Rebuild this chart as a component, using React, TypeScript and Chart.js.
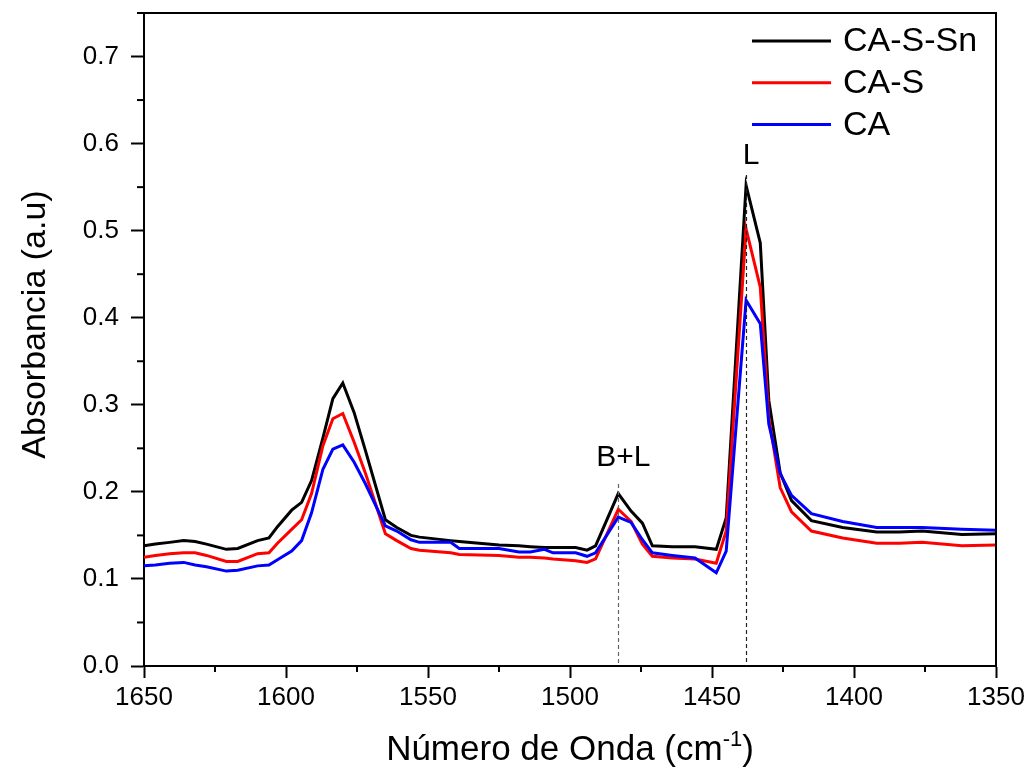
import { useEffect, useRef } from "react";
import { Chart, registerables } from "chart.js";

Chart.register(...registerables);

// Wavenumbers (cm-1) of the sampled points
const wavenumbers = [
  1650, 1646, 1641, 1636, 1632, 1628, 1621, 1617, 1610, 1606,
  1603, 1598, 1594.5, 1591, 1587, 1583.5, 1580, 1576, 1572, 1565,
  1561, 1556, 1553, 1542, 1539, 1525, 1518, 1514, 1509, 1506,
  1498, 1494, 1491, 1483, 1478.5, 1474.5, 1471, 1464, 1456, 1448.5,
  1445, 1438, 1433, 1430, 1426, 1422, 1415, 1404, 1392, 1384,
  1376, 1362, 1350,
];

const caSSn = [
  0.138, 0.140, 0.142, 0.144, 0.143, 0.140, 0.134, 0.135, 0.144, 0.147,
  0.160, 0.179, 0.188, 0.213, 0.262, 0.307, 0.325, 0.291, 0.247, 0.168,
  0.159, 0.150, 0.148, 0.144, 0.143, 0.139, 0.138, 0.137, 0.136, 0.136,
  0.136, 0.133, 0.138, 0.198, 0.178, 0.164, 0.138, 0.137, 0.137, 0.134,
  0.170, 0.552, 0.486, 0.305, 0.222, 0.190, 0.167, 0.159, 0.154, 0.154,
  0.155, 0.151, 0.152,
];

const caS = [
  0.125, 0.127, 0.129, 0.130, 0.130, 0.127, 0.120, 0.120, 0.129, 0.130,
  0.141, 0.157, 0.168, 0.198, 0.253, 0.284, 0.290, 0.257, 0.221, 0.152,
  0.144, 0.135, 0.133, 0.130, 0.128, 0.127, 0.125, 0.125, 0.124, 0.123,
  0.121, 0.119, 0.123, 0.180, 0.166, 0.140, 0.126, 0.124, 0.123, 0.118,
  0.155, 0.502, 0.435, 0.285, 0.205, 0.177, 0.155, 0.147, 0.141, 0.141,
  0.142, 0.138, 0.139,
];

const ca = [
  0.115, 0.116, 0.118, 0.119, 0.116, 0.114, 0.109, 0.110, 0.115, 0.116,
  0.122, 0.132, 0.144, 0.176, 0.226, 0.249, 0.254, 0.234, 0.209, 0.161,
  0.155, 0.145, 0.142, 0.142, 0.135, 0.135, 0.131, 0.131, 0.134, 0.130,
  0.130, 0.126, 0.130, 0.171, 0.165, 0.145, 0.130, 0.127, 0.124, 0.107,
  0.132, 0.420, 0.393, 0.278, 0.221, 0.196, 0.175, 0.166, 0.159, 0.159,
  0.159, 0.157, 0.156,
];

const seriesNames = ["CA-S-Sn", "CA-S", "CA"];
const seriesColors = ["#000000", "#ff0000", "#0000ff"];
const seriesValues = [caSSn, caS, ca];

const yTickValues = [0, 0.1, 0.2, 0.3, 0.4, 0.5, 0.6, 0.7];
const xTickValues = [1650, 1600, 1550, 1500, 1450, 1400, 1350];

const peakLabels = ["B+L", "L"];
const peakWavenumbers = [1483, 1438];
const peakLineTops = [0.209, 0.564];
const peakLabelValues = [0.230, 0.577];
const peakLineColors = ["#666666", "#222222"];

const FONT = "'Liberation Sans', Arial, Helvetica, sans-serif";

const extrasPlugin = {
  id: "extras",
  afterDatasetsDraw(chart: any) {
    const { ctx, chartArea: a, scales } = chart;
    const xs = scales.x;
    const ys = scales.y;
    ctx.save();

    // dashed peak markers + labels
    ctx.lineWidth = 1.2;
    ctx.setLineDash([4, 3]);
    peakWavenumbers.forEach((w, i) => {
      const px = Math.round(xs.getPixelForValue(w)) + 0.5;
      ctx.strokeStyle = peakLineColors[i];
      ctx.beginPath();
      ctx.moveTo(px, ys.getPixelForValue(peakLineTops[i]));
      ctx.lineTo(px, a.bottom);
      ctx.stroke();
    });
    ctx.setLineDash([]);
    ctx.fillStyle = "#000";
    ctx.font = `30px ${FONT}`;
    ctx.textAlign = "center";
    ctx.textBaseline = "alphabetic";
    peakWavenumbers.forEach((w, i) => {
      ctx.fillText(peakLabels[i], xs.getPixelForValue(w) + 5, ys.getPixelForValue(peakLabelValues[i]));
    });

    // frame top & right
    ctx.strokeStyle = "#000";
    ctx.lineWidth = 2;
    ctx.beginPath();
    ctx.moveTo(a.left, a.top);
    ctx.lineTo(a.right, a.top);
    ctx.lineTo(a.right, a.bottom);
    ctx.stroke();

    // minor ticks
    ctx.lineWidth = 2;
    for (let k = 0; k < yTickValues.length; k++) {
      const v = yTickValues[k] + 0.05;
      if (v > ys.max) break;
      const py = ys.getPixelForValue(v);
      ctx.beginPath();
      ctx.moveTo(a.left - 7, py);
      ctx.lineTo(a.left, py);
      ctx.stroke();
    }
    for (let k = 0; k < xTickValues.length - 1; k++) {
      const v = (xTickValues[k] + xTickValues[k + 1]) / 2;
      const px = xs.getPixelForValue(v);
      ctx.beginPath();
      ctx.moveTo(px, a.bottom);
      ctx.lineTo(px, a.bottom + 6);
      ctx.stroke();
    }

    // legend
    ctx.font = `34px ${FONT}`;
    ctx.textAlign = "left";
    ctx.textBaseline = "middle";
    seriesNames.forEach((name, i) => {
      const ly = a.top + 28 + i * 41.7;
      ctx.strokeStyle = seriesColors[i];
      ctx.lineWidth = 3;
      ctx.beginPath();
      ctx.moveTo(a.right - 244, ly);
      ctx.lineTo(a.right - 165, ly);
      ctx.stroke();
      ctx.fillStyle = "#000";
      ctx.fillText(name, a.right - 153, ly + 1);
    });

    // y title
    ctx.save();
    ctx.translate(36, (a.top + a.bottom) / 2 - 15);
    ctx.rotate(-Math.PI / 2);
    ctx.textAlign = "center";
    ctx.textBaseline = "middle";
    ctx.font = `34px ${FONT}`;
    ctx.fillText("Absorbancia (a.u)", 0, 0);
    ctx.restore();

    // x title with superscript
    const mainA = "Número de Onda (cm";
    const sup = "-1";
    const mainB = ")";
    ctx.font = `35px ${FONT}`;
    const wA = ctx.measureText(mainA).width;
    const wB = ctx.measureText(mainB).width;
    ctx.font = `22px ${FONT}`;
    const wS = ctx.measureText(sup).width;
    const total = wA + wS + wB;
    let sx = (a.left + a.right) / 2 - total / 2;
    const base = 760;
    ctx.textAlign = "left";
    ctx.textBaseline = "alphabetic";
    ctx.font = `35px ${FONT}`;
    ctx.fillText(mainA, sx, base);
    sx += wA;
    ctx.font = `22px ${FONT}`;
    ctx.fillText(sup, sx, base - 14);
    sx += wS;
    ctx.font = `35px ${FONT}`;
    ctx.fillText(mainB, sx, base);

    ctx.restore();
  },
};

export default function App() {
  const canvasRef = useRef<HTMLCanvasElement | null>(null);

  useEffect(() => {
    if (!canvasRef.current) return;
    const order = [2, 1, 0]; // CA drawn on top
    const datasets = order.map((i) => ({
      label: seriesNames[i],
      data: wavenumbers.map((w, k) => ({ x: w, y: seriesValues[i][k] })),
      borderColor: seriesColors[i],
      backgroundColor: seriesColors[i],
      borderWidth: 3,
      pointRadius: 0,
      tension: 0,
      fill: false,
    }));
    const chart = new Chart(canvasRef.current, {
      type: "line",
      data: { datasets },
      plugins: [extrasPlugin],
      options: {
        animation: false,
        responsive: false,
        maintainAspectRatio: false,
        layout: { padding: { top: 13, right: 33, left: 0, bottom: 0 } },
        plugins: {
          legend: { display: false },
          tooltip: { enabled: false },
        },
        scales: {
          x: {
            type: "linear",
            min: 1350,
            max: 1650,
            reverse: true,
            afterFit: (s: any) => {
              s.height = 103;
              s.paddingLeft = 0;
              s.paddingRight = 0;
            },
            afterBuildTicks: (s: any) => {
              s.ticks = xTickValues.map((v) => ({ value: v }));
            },
            ticks: {
              color: "#000",
              font: { family: FONT, size: 26 },
              padding: 4,
              maxRotation: 0,
              callback: (v: any) => String(v),
            },
            grid: {
              drawOnChartArea: false,
              drawTicks: true,
              tickLength: 12,
              tickWidth: 2,
              tickColor: "#000",
            },
            border: { display: true, color: "#000", width: 2 },
          },
          y: {
            type: "linear",
            min: 0,
            max: 0.75,
            afterFit: (s: any) => {
              s.width = 144;
              s.paddingTop = 0;
              s.paddingBottom = 0;
            },
            afterBuildTicks: (s: any) => {
              s.ticks = yTickValues.map((v) => ({ value: v }));
            },
            ticks: {
              color: "#000",
              font: { family: FONT, size: 26 },
              padding: 12,
              callback: (v: any) => Number(v).toFixed(1),
            },
            grid: {
              drawOnChartArea: false,
              drawTicks: true,
              tickLength: 13,
              tickWidth: 2,
              tickColor: "#000",
            },
            border: { display: true, color: "#000", width: 2 },
          },
        },
      },
    });
    return () => chart.destroy();
  }, []);

  return (
    <div style={{ position: "absolute", left: 0, top: 0, width: 1029, height: 769, background: "#fff" }}>
      <canvas ref={canvasRef} width={1029} height={769} style={{ display: "block" }} />
    </div>
  );
}
